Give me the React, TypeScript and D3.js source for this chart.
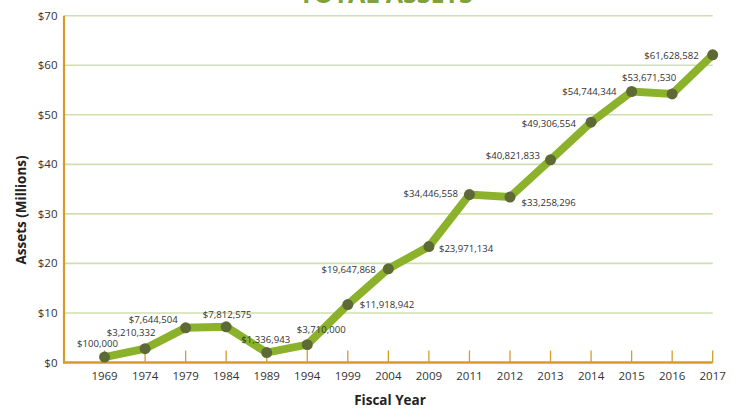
import React from "react";
import * as d3 from "d3";

const years = ["1969","1974","1979","1984","1989","1994","1999","2004","2009","2011","2012","2013","2014","2015","2016","2017"];
// plotted values (millions)
const assets = [1.1, 2.8, 7.0, 7.2, 2.0, 3.6, 11.7, 18.9, 23.4, 33.9, 33.4, 40.9, 48.5, 54.7, 54.2, 62.1];
const valueLabels = ["$100,000","$3,210,332","$7,644,504","$7,812,575","$1,336,943","$3,710,000","$11,918,942","$19,647,868","$23,971,134","$34,446,558","$33,258,296","$40,821,833","$49,306,554","$54,744,344","$53,671,530","$61,628,582"];
const yTicks = [0, 10, 20, 30, 40, 50, 60, 70];

// label placement relative to each point: [anchor, dx, dy]
const labelPlacement: [string, number, number][] = [
  ["middle", -7, -10.5],
  ["middle", -14, -13],
  ["end", -8, -4.8],
  ["middle", 1, -9],
  ["middle", -1, -10],
  ["middle", 14, -11.7],
  ["start", 12, 3.3],
  ["end", -12.5, 4],
  ["start", 10, 5],
  ["end", -11.5, 2.7],
  ["start", 11.5, 9.4],
  ["end", -10.5, -0.7],
  ["end", -15, 4.6],
  ["end", -15, 3.3],
  ["middle", -23, -12.6],
  ["end", -14, 4],
];

const W = 734, H = 410;
const left = 64, right = 712.7, top = 15.7, bottom = 362.5;

export default function App() {
  const x = d3.scaleLinear().domain([-1, years.length - 1]).range([left, right]);
  const y = d3.scaleLinear().domain([0, 70]).range([bottom, top]);
  const line = d3.line<number>().x((_, i) => x(i)).y((d) => y(d));
  const font = "'Open Sans', sans-serif";
  const gold = "#d89b28";
  return (
    <svg width={W} height={H} style={{ position: "absolute", left: 0, top: 0, display: "block", background: "#fff" }}>
      <text x={386} y={3} textAnchor="middle" fontFamily={font} fontWeight={700} fontSize={25} fill="#7fa23a">TOTAL ASSETS</text>
      {yTicks.filter((t) => t > 0).map((t) => (
        <line key={"g" + t} x1={left} x2={right} y1={y(t)} y2={y(t)} stroke="#cfe0b0" strokeWidth={1.6} />
      ))}
      {yTicks.map((t) => (
        <text key={"yl" + t} x={57.5} y={y(t)} dy="0.35em" textAnchor="end" fontFamily={font} fontSize={11.5} fill="#333">{"$" + t}</text>
      ))}
      {years.map((yr, i) => (
        <g key={"xt" + yr}>
          <line x1={x(i)} x2={x(i)} y1={bottom} y2={bottom - 12} stroke={gold} strokeWidth={1.3} />
          <text x={x(i)} y={380} textAnchor="middle" fontFamily={font} fontSize={11.5} fill="#333">{yr}</text>
        </g>
      ))}
      <line x1={left} x2={left} y1={top} y2={bottom + 1} stroke={gold} strokeWidth={2.2} />
      <line x1={left - 1} x2={right} y1={bottom} y2={bottom} stroke={gold} strokeWidth={2.6} />
      <path d={line(assets) || ""} fill="none" stroke="#8cb22c" strokeWidth={8} strokeLinejoin="miter" />
      {assets.map((v, i) => (
        <circle key={"c" + i} cx={x(i)} cy={y(v)} r={5.5} fill="#5e6a36" />
      ))}
      {assets.map((v, i) => {
        const [anchor, dx, dy] = labelPlacement[i];
        return (
          <text key={"l" + i} x={x(i) + dx} y={y(v) + dy} textAnchor={anchor as any} fontFamily={font} fontSize={9.6} fill="#333">{valueLabels[i]}</text>
        );
      })}
      <text x={390} y={405} textAnchor="middle" fontFamily={font} fontWeight={700} fontSize={13.5} fill="#222">Fiscal Year</text>
      <text transform={`translate(26,${210}) rotate(-90)`} textAnchor="middle" fontFamily={font} fontWeight={700} fontSize={13.5} fill="#222">Assets (Millions)</text>
    </svg>
  );
}
